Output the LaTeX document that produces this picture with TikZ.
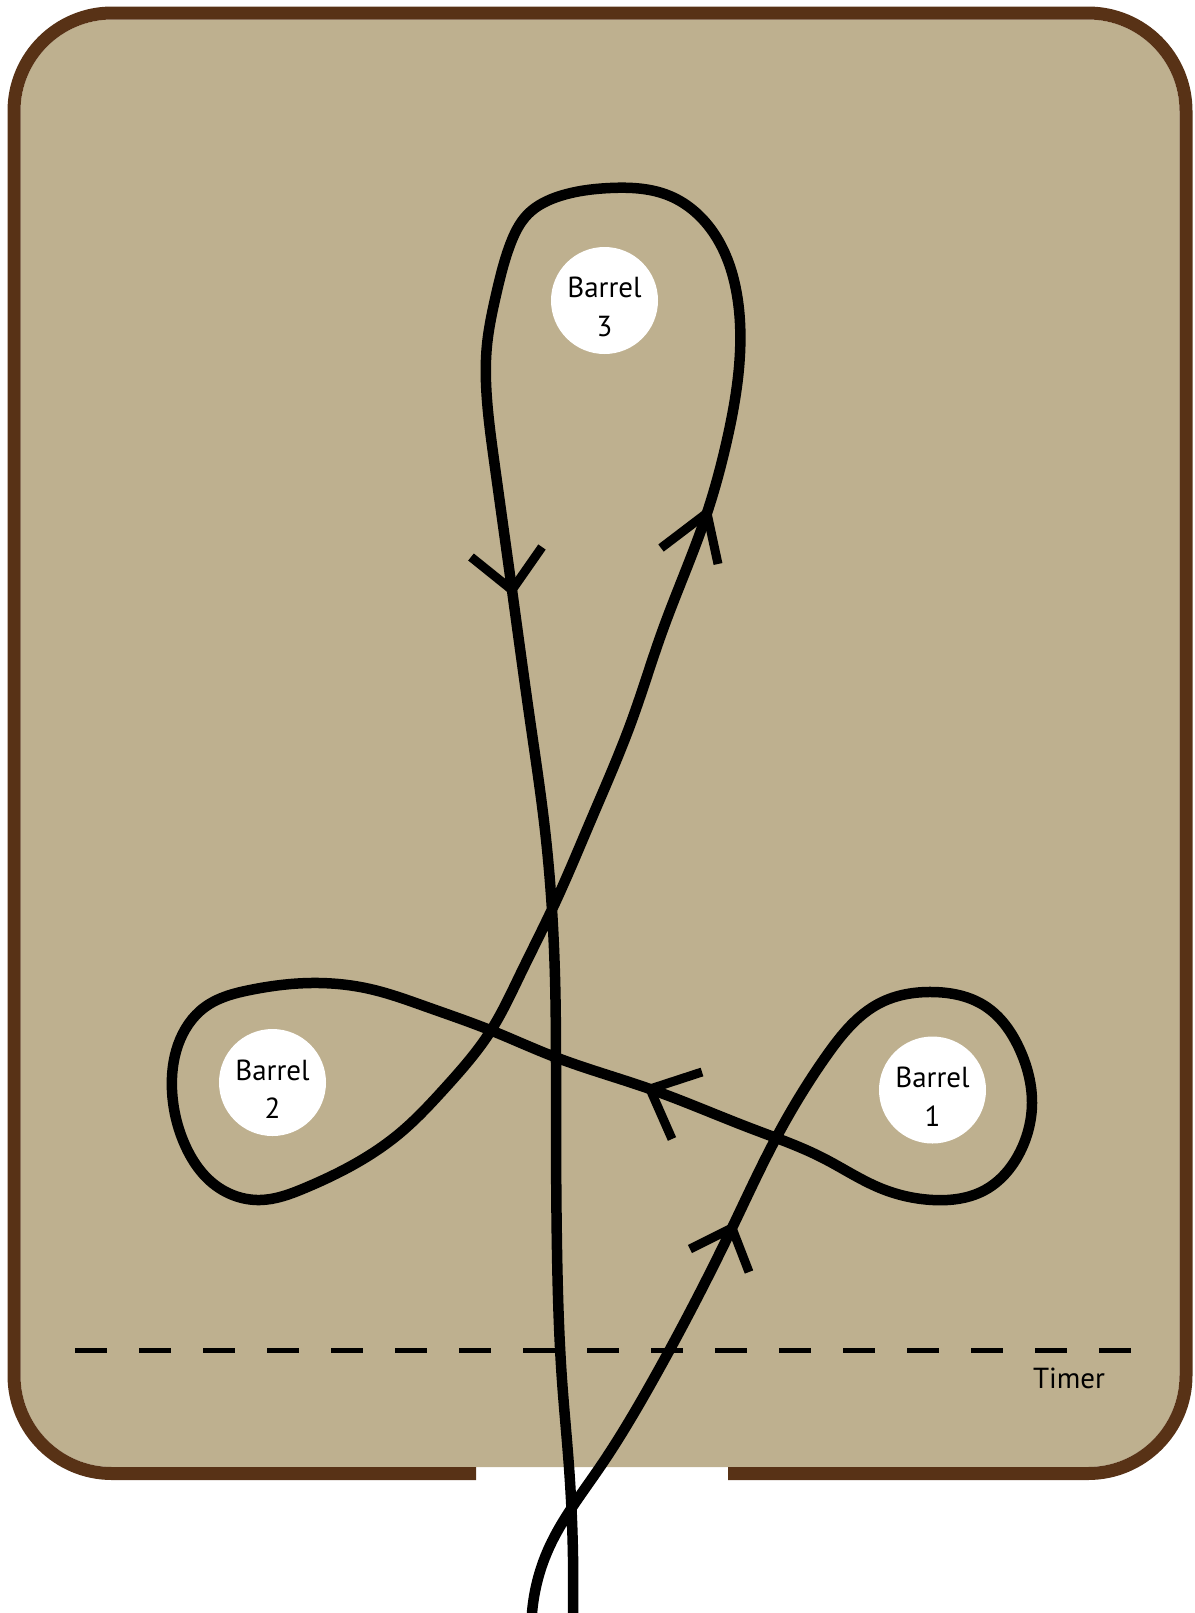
\documentclass[tikz,border=0pt]{standalone}
\usepackage{fontspec}
\setmainfont{PT Sans}
\usepackage{tikz}
\usetikzlibrary{hobby}
\definecolor{arenatan}{RGB}{190,176,143}
\definecolor{fencebrown}{RGB}{88,50,22}
\tikzset{
  every picture/.style={line join=round, line cap=round},
  field/.style={fill=arenatan},
  fence/.style={draw=fencebrown, line width=6.5pt, line cap=butt},
  runpath/.style={line width=5.25pt, use Hobby shortcut},
  barb/.style={line width=4.5pt, line cap=butt, line join=miter},
  timerline/.style={line width=2.5pt, line cap=butt, dash pattern=on 16pt off 16pt},
  barrel/.style={circle, fill=white, minimum size=53.5pt, inner sep=0pt},
  tag/.style={align=center, inner sep=0pt, font=\fontsize{14.5}{19.25}\selectfont},
}

\begin{document}
\begin{tikzpicture}[x=0.5pt, y=-0.5pt]
\useasboundingbox (0,0) rectangle (1195,1613);
\fill[field, rounded corners=45.75pt] (20.5,19.5) rectangle (1179.5,1467);
\draw[fence, rounded corners=49pt] (476,1473.5) -- (14,1473.5) -- (14,13) -- (1186,13) -- (1186,1473.5) -- (728,1473.5);
\draw[timerline] (75,1350) -- (1131,1350);
\node[tag, anchor=base] (timer) at (1069,1388) {Timer};
\node[barrel] (barrel1) at (932.5,1090) {};
\node[barrel] (barrel2) at (272.5,1082.5) {};
\node[barrel] (barrel3) at (604.5,300.5) {};
\node[tag, yshift=-3.25pt] (name1) at (barrel1) {Barrel\\1};
\node[tag, yshift=-3.25pt] (name2) at (barrel2) {Barrel\\2};
\node[tag, yshift=-3.25pt] (name3) at (barrel3) {Barrel\\3};
\draw[runpath] (532,1613) .. (548,1550) .. (600,1467) .. (653,1380) .. (732,1228)
  .. (775,1140) .. (827,1055) .. (880,1003) .. (933,992) .. (985,1006) .. (1020,1050)
  .. (1032,1103) .. (1020,1152) .. (985,1190) .. (933,1200) .. (880,1188) .. (823,1158)
  .. (750,1128) .. (650,1089) .. (555,1057) .. (490,1030) .. (427,1007) .. (370,989)
  .. (310,983) .. (250,990) .. (205,1007) .. (178,1045) .. (172,1090) .. (185,1145)
  .. (215,1185) .. (260,1200) .. (305,1188) .. (400,1133) .. (445,1088) .. (490,1032)
  .. (520,975) .. (555,903) .. (591,820) .. (632,720) .. (662,632) .. (707,513)
  .. (727,440) .. (740,353) .. (737,295) .. (715,235) .. (670,196) .. (610,188)
  .. (560,196) .. (528,214) .. (510,245) .. (496,295) .. (487,345) .. (487,400)
  .. (494,460) .. (512,590) .. (530,720) .. (545,830) .. (555,977) .. (556,1100)
  .. (557,1250) .. (562,1380) .. (569,1467) .. (573,1613);
\draw[barb] (690,1249) -- (732,1228) -- (749,1272);
\draw[barb] (702,1072) -- (650,1089) -- (672,1139);
\draw[barb] (661,548) -- (707,513) -- (718,564);
\draw[barb] (471,557) -- (512,590) -- (542,547);
\end{tikzpicture}
\end{document}
